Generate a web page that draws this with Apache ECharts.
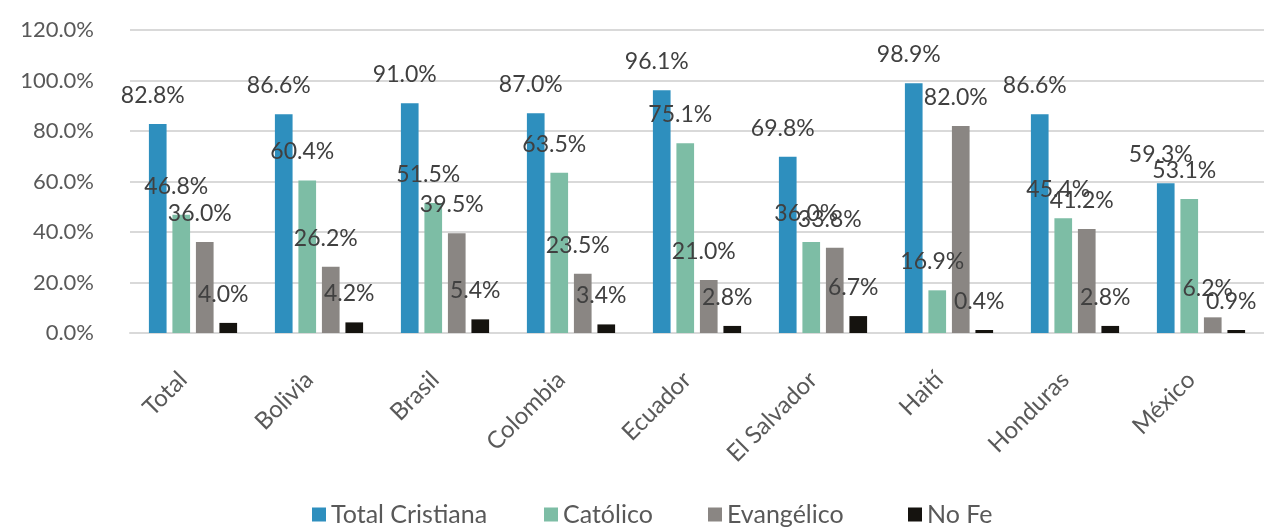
<!DOCTYPE html>
<html>
<head>
<meta charset="utf-8">
<title>Afiliación religiosa</title>
<script src="https://cdn.jsdelivr.net/npm/echarts@6/dist/echarts.min.js"></script>
<style>
  html, body { margin: 0; padding: 0; background: #ffffff; }
  #chart { width: 1264px; height: 530px; }
</style>
</head>
<body>
<div id="chart"></div>
<script>
// Countries on the x axis
const categories = ['Total', 'Bolivia', 'Brasil', 'Colombia', 'Ecuador', 'El Salvador', 'Haití', 'Honduras', 'México'];

// Share of respondents per group (%)
const totalCristiana = [82.8, 86.6, 91.0, 87.0, 96.1, 69.8, 98.9, 86.6, 59.3];
const catolico       = [46.8, 60.4, 51.5, 63.5, 75.1, 36.0, 16.9, 45.4, 53.1];
const evangelico     = [36.0, 26.2, 39.5, 23.5, 21.0, 33.8, 82.0, 41.2, 6.2];
const noFe           = [4.0, 4.2, 5.4, 3.4, 2.8, 6.7, 0.4, 2.8, 0.9];

const seriesNames = ['Total Cristiana', 'Católico', 'Evangélico', 'No Fe'];
const seriesData = [totalCristiana, catolico, evangelico, noFe];
const colors = ['#2E8FBE', '#7DBDA5', '#8A8683', '#15130F'];

const FONT = 'Lato, "Open Sans", sans-serif';
const pct = v => Number(v).toFixed(1) + '%';

const series = seriesNames.map((name, i) => ({
  name: name,
  type: 'bar',
  data: seriesData[i],
  itemStyle: { color: colors[i] },
  barGap: '33%',
  barCategoryGap: '30%',
  barMinHeight: 3,
  label: {
    show: true,
    position: 'top',
    offset: [-5, -12],
    color: '#404040',
    fontFamily: FONT,
    fontSize: 23,
    formatter: p => pct(p.value)
  }
}));

// One legend block per series so each entry sits at its own column
const legendLefts = [312, 544, 708, 908];
const legends = seriesNames.map((name, i) => ({
  data: [name],
  left: legendLefts[i],
  top: 502,
  padding: 0,
  itemWidth: 14,
  itemHeight: 14,
  icon: 'rect',
  textStyle: { color: '#595959', fontFamily: FONT, fontSize: 25 }
}));

const chart = echarts.init(document.getElementById('chart'), null, { renderer: 'canvas' });
chart.setOption({
  animation: false,
  backgroundColor: '#ffffff',
  grid: { left: 130, top: 30, width: 1142, height: 303, containLabel: false },
  legend: legends,
  xAxis: {
    type: 'category',
    data: categories,
    axisTick: { show: false },
    axisLine: { show: true, lineStyle: { color: '#D9D9D9', width: 2 } },
    axisLabel: {
      interval: 0,
      rotate: 45,
      margin: 33,
      align: 'right',
      verticalAlign: 'middle',
      padding: [0, 14, 0, 0],
      color: '#595959',
      fontFamily: FONT,
      fontSize: 24
    }
  },
  yAxis: {
    type: 'value',
    min: 0,
    max: 120,
    interval: 20,
    axisLine: { show: false },
    axisTick: { show: false },
    splitLine: { lineStyle: { color: '#D9D9D9', width: 2 } },
    axisLabel: {
      margin: 36,
      color: '#595959',
      fontFamily: FONT,
      fontSize: 22,
      formatter: v => pct(v)
    }
  },
  series: series
});
</script>
</body>
</html>
